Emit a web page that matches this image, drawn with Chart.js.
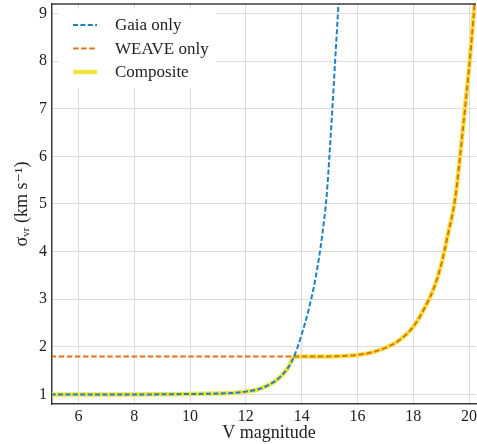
<!DOCTYPE html>
<html>
<head>
<meta charset="utf-8">
<script src="https://cdn.jsdelivr.net/npm/chart.js@4.4.1/dist/chart.umd.min.js"></script>
<style>
  html, body { margin: 0; padding: 0; background: #ffffff; }
  #wrap { width: 477px; height: 444px; }
</style>
</head>
<body>
<div id="wrap"><canvas id="myGraph" width="477" height="444"></canvas></div>
<script>
/* DATOS DEL GRAFICO */
const gaiaMag = [5, 8, 10, 11, 11.5, 12, 12.5, 13, 13.25, 13.5, 13.73, 14, 14.25, 14.5, 14.75, 14.9, 15.0, 15.1, 15.2, 15.3, 15.4];
const gaiaSigma = [1.0, 1.0, 1.01, 1.02, 1.03, 1.06, 1.12, 1.26, 1.38, 1.55, 1.8, 2.26, 2.78, 3.45, 4.4, 5.2, 6.05, 7.0, 8.0, 9.0, 10.0];
const weaveMag = [5, 10, 14, 15, 15.5, 16, 16.5, 17, 17.5, 18, 18.5, 18.75, 19, 19.25, 19.5, 19.75, 20, 20.2, 20.3];
const weaveSigma = [1.8, 1.8, 1.8, 1.8, 1.81, 1.83, 1.88, 1.98, 2.14, 2.42, 2.92, 3.25, 3.72, 4.38, 5.1, 6.4, 7.85, 9.2, 10.0];
const compositeMag = [5, 8, 10, 11, 11.5, 12, 12.5, 13, 13.25, 13.5, 13.73, 14, 15, 15.5, 16, 16.5, 17, 17.5, 18, 18.5, 18.75, 19, 19.25, 19.5, 19.75, 20, 20.2, 20.3];
const compositeSigma = [1.0, 1.0, 1.01, 1.02, 1.03, 1.06, 1.12, 1.26, 1.38, 1.55, 1.8, 1.8, 1.8, 1.81, 1.83, 1.88, 1.98, 2.14, 2.42, 2.92, 3.25, 3.72, 4.38, 5.1, 6.4, 7.85, 9.2, 10.0];
const xTicks = [6, 8, 10, 12, 14, 16, 18, 20];
const yTicks = [1, 2, 3, 4, 5, 6, 7, 8, 9];

const serif = "'Liberation Serif', 'DejaVu Serif', serif";

function toPoints(xs, ys) {
  return xs.map((x, i) => ({ x: x, y: ys[i] }));
}

/* LEYENDA DENTRO DEL AREA DEL GRAFICO, MARCO SUPERIOR Y TITULO X */
const legendInside = {
  id: "legendInside",
  afterDraw(chart) {
    const ctx = chart.ctx;
    const area = chart.chartArea;
    ctx.save();
    // linea superior del marco
    ctx.strokeStyle = "#3a3a3a";
    ctx.lineWidth = 1.3;
    ctx.beginPath();
    ctx.moveTo(area.left, area.top);
    ctx.lineTo(area.right, area.top);
    ctx.stroke();
    // titulo del eje x
    ctx.fillStyle = "#222222";
    ctx.font = "18px " + serif;
    ctx.textAlign = "center";
    ctx.textBaseline = "alphabetic";
    ctx.fillText("V magnitude", 269, 438);
    // caja blanca
    ctx.fillStyle = "#ffffff";
    ctx.fillRect(58, 9, 158, 79);
    chart.data.datasets.forEach((ds, i) => {
      const y = 25 + i * 23.5;
      ctx.strokeStyle = ds.borderColor;
      ctx.lineWidth = ds.borderWidth;
      ctx.setLineDash(ds.borderDash || []);
      ctx.beginPath();
      ctx.moveTo(73, y);
      ctx.lineTo(97, y);
      ctx.stroke();
      ctx.setLineDash([]);
      ctx.fillStyle = "#222222";
      ctx.font = "17px " + serif;
      ctx.textBaseline = "middle";
      ctx.textAlign = "left";
      ctx.fillText(ds.label, 115, y + 1);
    });
    ctx.restore();
  }
};

const config = {
  type: "line",
  data: {
    datasets: [
      {
        label: "Gaia only",
        data: toPoints(gaiaMag, gaiaSigma),
        borderColor: "#1f80c4",
        borderWidth: 2,
        borderDash: [5, 2.4],
        pointRadius: 0,
        cubicInterpolationMode: "monotone",
        clip: 0
      },
      {
        label: "WEAVE only",
        data: toPoints(weaveMag, weaveSigma),
        borderColor: "#e3701c",
        borderWidth: 2,
        borderDash: [5.5, 2.6],
        pointRadius: 0,
        cubicInterpolationMode: "monotone",
        clip: 0
      },
      {
        label: "Composite",
        data: toPoints(compositeMag, compositeSigma),
        borderColor: "#f0e442",
        borderWidth: 4.5,
        pointRadius: 0,
        cubicInterpolationMode: "monotone",
        clip: 0
      }
    ]
  },
  options: {
    responsive: false,
    animation: false,
    layout: { padding: { top: 4, right: 1, left: 0, bottom: 0 } },
    plugins: {
      legend: { display: false },
      tooltip: { enabled: false }
    },
    scales: {
      x: {
        type: "linear",
        min: 5.05,
        max: 20.25,
        afterBuildTicks: (scale) => { scale.ticks = xTicks.map(v => ({ value: v })); },
        afterFit: (scale) => { scale.height = 40; scale.paddingLeft = 0; scale.paddingRight = 0; },
        grid: { color: "#dcdcdc", lineWidth: 1, drawTicks: false },
        border: { display: true, color: "#3a3a3a", width: 1.5 },
        ticks: { color: "#222222", font: { family: serif, size: 16 }, padding: 3, maxRotation: 0 },
        title: { display: false }
      },
      y: {
        type: "linear",
        min: 0.8,
        max: 9.2,
        afterBuildTicks: (scale) => { scale.ticks = yTicks.map(v => ({ value: v })); },
        afterFit: (scale) => { scale.width = 52; scale.paddingTop = 0; scale.paddingBottom = 0; },
        grid: { color: "#dcdcdc", lineWidth: 1, drawTicks: false },
        border: { display: true, color: "#3a3a3a", width: 1.5 },
        ticks: { color: "#222222", font: { family: serif, size: 16 }, padding: 5 },
        title: { display: true, text: "σᵥᵣ (km s⁻¹)", color: "#222222", font: { family: serif, size: 18 }, padding: { top: 11, bottom: 0 } }
      }
    }
  },
  plugins: [legendInside]
};

const chartDOM = document.getElementById("myGraph");
const chart = new Chart(chartDOM, config);
</script>
</body>
</html>
